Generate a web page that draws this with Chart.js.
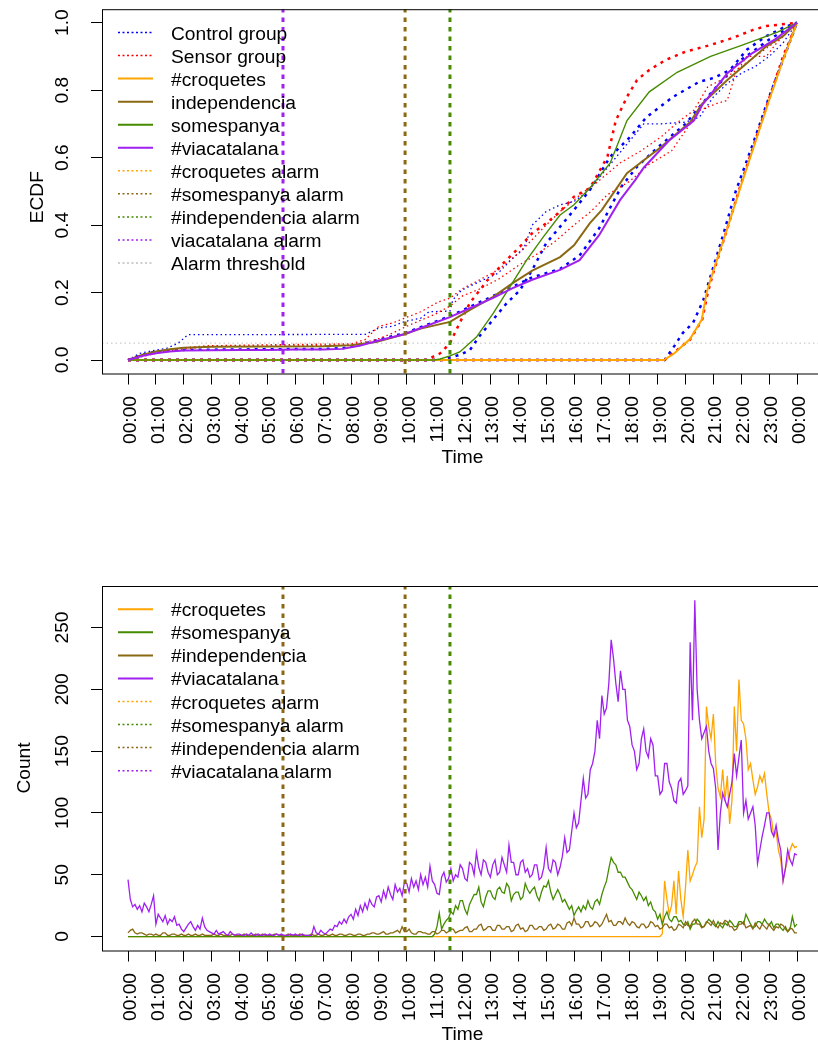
<!DOCTYPE html>
<html><head><meta charset="utf-8">
<script src="https://cdn.jsdelivr.net/npm/chart.js@4.4.1/dist/chart.umd.min.js"></script>
<style>
html,body{margin:0;padding:0;background:#fff;overflow:hidden;}
#wrap{position:relative;width:818px;height:1041px;background:#fff;}
canvas{position:absolute;left:0;}
</style></head><body>
<div id="wrap">
<canvas id="c1" style="top:0;width:818px;height:480px"></canvas>
<canvas id="c2" style="top:480px;width:818px;height:561px"></canvas>
</div>
<script>
// ================= DATA =================
const hourTicks = [0,1,2,3,4,5,6,7,8,9,10,11,12,13,14,15,16,17,18,19,20,21,22,23,24];
const hourLabels = ["00:00","01:00","02:00","03:00","04:00","05:00","06:00","07:00","08:00","09:00","10:00","11:00",
  "12:00","13:00","14:00","15:00","16:00","17:00","18:00","19:00","20:00","21:00","22:00","23:00","00:00"];
const ecdfTicks = [0,0.2,0.4,0.6,0.8,1.0];
const ecdfTickLabels = ["0.0","0.2","0.4","0.6","0.8","1.0"];
const countTicks = [0,50,100,150,200,250];
const countTickLabels = ["0","50","100","150","200","250"];

// alarm times (hours) and ECDF alarm threshold
const alarmHours = [5.56, 9.94, 11.55];
const alarmThreshold = 0.05;

// ---- ECDF curves: hour / cumulative share ----
const croquetesEcdfH = [0,19.23,19.6,20.16,20.58,20.76,21.0,21.5,22.0,22.5,23.0,23.5,24];
const croquetesEcdfV = [0,0,0.02,0.062,0.119,0.2,0.265,0.39,0.52,0.645,0.77,0.89,1.0];

const independenciaEcdfH = [0,0.5,1,1.5,2,3,5,7,8,8.9,9.94,10.5,11.55,12.3,13.1,13.8,14.5,15.5,16.0,16.57,17.0,17.9,19.1,20.16,20.6,21.5,22.2,22.9,23.5,24];
const independenciaEcdfV = [0,0.015,0.025,0.032,0.036,0.039,0.04,0.041,0.044,0.053,0.077,0.093,0.113,0.15,0.187,0.228,0.265,0.305,0.34,0.406,0.445,0.554,0.63,0.705,0.76,0.83,0.88,0.93,0.96,1.0];

const somespanyaEcdfH = [0,11.0,11.2,11.55,11.9,12.5,13.1,13.7,14.3,14.9,15.5,16.0,16.57,17.3,17.9,18.7,19.7,20.9,22.06,23.3,24];
const somespanyaEcdfV = [0,0,0.003,0.012,0.024,0.068,0.138,0.217,0.296,0.365,0.43,0.46,0.51,0.584,0.71,0.795,0.853,0.9,0.934,0.972,1.0];

const viacatalanaEcdfH = [0,0.5,1,1.5,2,3,4,5,6,7,7.7,8.3,9,9.94,10.5,11.55,12.3,13.1,13.8,14.5,15.5,16.2,16.9,17.65,18.2,18.5,19.4,20.3,20.6,21.5,22.4,23.2,24];
const viacatalanaEcdfV = [0,0.012,0.02,0.025,0.028,0.029,0.03,0.03,0.031,0.031,0.033,0.042,0.058,0.077,0.095,0.127,0.155,0.184,0.213,0.238,0.267,0.296,0.37,0.474,0.534,0.57,0.65,0.71,0.756,0.85,0.91,0.95,1.0];

// control group (blue)
const controlCroquetesH = [0,19.25,19.62,19.9,20.27,20.64,21.0,21.37,21.78,22.5,23.0,23.5,24];
const controlCroquetesV = [0,0,0.044,0.08,0.11,0.178,0.276,0.376,0.495,0.66,0.78,0.89,1.0];
const controlSomespanyaH = [0,11.2,11.9,12.27,12.6,13.1,13.58,14.06,14.5,15.0,15.5,16.0,16.57,17.3,18.0,18.6,19.55,20.5,21.0,21.6,22.2,22.9,23.5,24];
const controlSomespanyaV = [0,0,0.015,0.03,0.07,0.12,0.168,0.207,0.267,0.346,0.395,0.445,0.504,0.603,0.66,0.72,0.78,0.825,0.836,0.86,0.92,0.96,0.985,1.0];
const controlViacatalanaH = [0,0.5,1,2,5,7,7.7,8.3,9,9.94,11.55,13.1,14.5,15.5,16.2,16.9,17.7,18.26,19.0,20.0,21.0,22.0,23.0,24];
const controlViacatalanaV = [0,0.015,0.025,0.03,0.032,0.033,0.035,0.045,0.06,0.08,0.13,0.19,0.245,0.27,0.31,0.39,0.514,0.573,0.63,0.70,0.80,0.89,0.95,1.0];
const controlIndependenciaH = [0,0.43,1.03,1.4,1.8,2.15,8.52,9.0,9.5,9.92,10.5,10.8,11.55,11.65,11.97,12.6,13.27,13.78,14.2,14.5,15.0,15.5,16.0,16.5,17.0,17.5,18.0,18.5,19.1,20.0,20.5,21.0,21.5,22.0,22.5,23.0,23.5,24];
const controlIndependenciaV = [0,0.02,0.03,0.035,0.05,0.075,0.076,0.095,0.1,0.114,0.124,0.143,0.145,0.178,0.207,0.232,0.257,0.3,0.33,0.4,0.44,0.46,0.47,0.5,0.55,0.6,0.65,0.70,0.70,0.705,0.72,0.78,0.82,0.85,0.87,0.9,0.94,1.0];

// sensor group (red)
const sensorCroquetesH = [0,19.25,19.7,20.16,20.6,20.8,21.0,21.5,22.0,22.5,23.0,23.5,24];
const sensorCroquetesV = [0,0,0.03,0.06,0.12,0.2,0.26,0.39,0.525,0.65,0.775,0.9,1.0];
const sensorSomespanyaH = [0,10.7,11.2,11.55,11.9,12.27,12.9,13.5,14.06,14.5,15.0,15.5,16.0,16.57,16.8,17.2,17.5,17.9,18.26,18.7,19.3,20.0,20.9,21.7,22.4,22.9,24];
const sensorSomespanyaV = [0,0,0.02,0.05,0.11,0.17,0.237,0.29,0.336,0.376,0.405,0.44,0.484,0.51,0.543,0.603,0.71,0.78,0.83,0.86,0.89,0.914,0.934,0.955,0.978,0.99,1.0];
const sensorIndependenciaH = [0,0.5,1,1.5,2,2.76,5,8.0,8.5,9.0,9.5,9.92,10.5,11.15,11.55,11.97,12.6,13.27,13.78,14.3,15.0,15.5,16.3,16.8,17.65,18.4,19.1,19.8,20.3,20.8,21.5,22.0,22.5,23.0,23.5,24];
const sensorIndependenciaV = [0,0.012,0.02,0.03,0.036,0.042,0.045,0.048,0.06,0.1,0.11,0.124,0.143,0.173,0.183,0.21,0.237,0.267,0.3,0.34,0.4,0.44,0.495,0.525,0.584,0.62,0.66,0.71,0.74,0.81,0.84,0.87,0.9,0.93,0.96,1.0];
const sensorViacatalanaH = [0,0.5,1,2,3,6,8,8.9,9.5,10.0,10.5,11.0,11.55,12.0,12.6,13.3,14.0,14.6,15.3,16.0,16.6,17.2,18.0,18.7,19.5,20.5,21.1,21.5,21.8,22.2,22.9,23.27,24];
const sensorViacatalanaV = [0,0.01,0.02,0.033,0.04,0.042,0.045,0.06,0.08,0.1,0.118,0.135,0.16,0.19,0.21,0.24,0.28,0.31,0.35,0.4,0.44,0.49,0.53,0.58,0.62,0.74,0.76,0.77,0.85,0.9,0.9,0.94,1.0];

// ---- tweet counts per 5-minute bin, 00:00 .. 24:00 (one row per hour) ----
const countBinMinutes = 5;
const croquetesCount = [
 0,0,0,0,0,0,0,0,0,0,0,0, 0,0,0,0,0,0,0,0,0,0,0,0, 0,0,0,0,0,0,0,0,0,0,0,0, 0,0,0,0,0,0,0,0,0,0,0,0,
 0,0,0,0,0,0,0,0,0,0,0,0, 0,0,0,0,0,0,0,0,0,0,0,0, 0,0,0,0,0,0,0,0,0,0,0,0, 0,0,0,0,0,0,0,0,0,0,0,0,
 0,0,0,0,0,0,0,0,0,0,0,0, 0,0,0,0,0,0,0,0,0,0,0,0, 0,0,0,0,0,0,0,0,0,0,0,0, 0,0,0,0,0,0,0,0,0,0,0,0,
 0,0,0,0,0,0,0,0,0,0,0,0, 0,0,0,0,0,0,0,0,0,0,0,0, 0,0,0,0,0,0,0,0,0,0,0,0, 0,0,0,0,0,0,0,0,0,0,0,0,
 0,0,0,0,0,0,0,0,0,0,0,0, 0,0,0,0,0,0,0,0,0,0,0,0, 0,0,0,0,0,0,0,0,0,0,0,0,
 0,0,2,45,30,18,25,45,18,53,30,16,
 40,70,45,50,56,60,105,80,95,186,170,160,
 180,140,120,113,135,110,130,91,110,186,150,208,
 175,172,160,135,140,127,115,121,130,125,132,115,
 100,95,81,85,70,62,45,55,62,70,75,72,
 73];
const somespanyaCount = [
 0,0,0,0,0,0,0,0,0,0,0,0, 0,0,0,0,0,0,0,0,0,0,0,0, 0,0,0,0,0,0,0,0,0,0,0,0, 0,0,0,0,0,0,0,0,0,0,0,0,
 0,0,0,0,0,0,0,0,0,0,0,0, 0,0,0,0,0,0,0,0,0,0,0,0, 0,0,0,0,0,0,0,0,0,0,0,0, 0,0,0,0,0,0,0,0,0,0,0,0,
 0,0,0,0,0,0,0,0,0,0,0,0, 0,0,0,0,0,0,0,0,0,0,0,0, 0,0,0,0,0,0,0,0,0,0,0,0,
 2,8,19,6,10,13,15,20,18,25,22,29,
 29,22,18,26,30,34,34,40,28,24,32,37,
 37,32,30,38,40,36,35,43,40,29,34,36,
 36,30,32,43,38,35,38,40,33,29,36,41,
 40,45,36,30,34,38,34,28,30,26,22,25,
 17,21,24,20,25,22,29,24,22,28,30,26,
 34,40,45,55,64,60,58,52,52,48,48,44,
 40,38,34,30,36,33,29,32,25,28,22,20,
 14,18,10,16,20,14,12,16,16,12,13,10,
 9,12,6,10,10,14,12,8,8,11,14,12,
 10,8,12,9,7,11,9,13,11,8,8,12,
 12,10,18,14,10,7,8,12,12,10,14,11,
 9,12,7,10,10,7,5,8,4,6,16,8,
 10];
const independenciaCount = [
 3,5,6,3,2,3,3,2,1,2,2,1,
 2,1,1,3,3,1,1,2,2,1,1,2,
 1,1,2,1,1,2,1,1,2,1,1,1,
 1,2,1,1,2,1,1,1,1,2,1,1,
 1,1,2,1,1,1,1,2,1,1,2,1,
 1,1,1,2,2,1,1,1,1,2,1,1,
 1,1,2,1,1,1,1,2,1,1,2,1,
 1,2,1,1,2,1,1,2,2,1,1,2,
 2,1,1,2,2,1,1,2,2,3,3,2,
 2,3,4,2,2,3,3,4,5,3,8,4,
 4,6,3,2,2,4,4,3,3,2,2,4,
 4,2,3,5,5,3,4,6,6,3,4,5,
 5,7,8,4,4,6,6,9,10,5,6,8,
 8,5,5,9,9,6,6,8,8,4,5,9,
 10,6,7,4,5,9,9,6,6,8,8,5,
 6,9,10,6,7,10,9,6,6,11,12,9,
 15,10,10,7,8,12,12,8,9,12,11,8,
 10,14,18,12,13,9,9,12,12,10,15,11,
 9,12,11,8,7,10,10,7,8,12,11,8,
 9,6,7,10,10,7,8,5,6,10,9,7,
 12,9,8,12,14,10,10,7,8,12,11,9,
 13,9,7,11,10,13,12,8,8,5,6,10,
 10,12,7,8,9,6,11,8,6,10,8,6,
 10,7,5,8,7,10,9,6,4,7,6,3,
 3];
const viacatalanaCount = [
 46,30,24,26,22,25,20,27,24,20,26,33,
 10,18,15,12,17,10,14,12,16,9,10,6,
 4,7,10,12,8,5,9,6,15,8,5,4,
 3,2,5,2,3,4,2,1,4,2,1,2,
 2,1,1,2,1,3,1,1,2,1,1,2,
 1,2,1,1,2,1,2,1,1,1,2,1,
 2,1,1,2,1,1,1,1,8,3,2,5,
 3,2,4,6,5,9,8,12,10,14,11,16,
 18,14,22,17,25,20,27,22,30,26,24,32,
 33,28,37,31,40,34,30,42,36,39,33,44,
 43,36,47,40,45,38,50,42,48,40,57,45,
 42,35,34,48,52,44,47,55,45,50,48,58,
 55,47,45,60,58,50,68,56,50,62,60,52,
 48,58,62,50,52,64,58,52,74,60,60,50,
 50,60,62,52,55,48,50,58,58,46,48,56,
 72,55,52,62,60,50,56,65,80,68,70,85,
 100,88,92,110,128,112,115,135,140,150,175,160,
 195,180,185,205,240,225,205,190,215,200,200,175,
 170,155,150,135,140,160,168,150,145,160,155,130,
 130,115,118,140,140,125,120,110,108,125,128,115,
 118,122,238,175,272,200,175,160,165,170,150,140,
 136,120,70,100,116,110,105,115,125,148,130,145,
 159,100,110,95,100,105,90,59,70,81,90,100,
 100,85,81,90,78,70,45,55,70,62,58,67,
 66];

const topLegendLabels = ["Control group","Sensor group","#croquetes","independencia","somespanya","#viacatalana",
  "#croquetes alarm","#somespanya alarm","#independencia alarm","viacatalana alarm","Alarm threshold"];
const bottomLegendLabels = ["#croquetes","#somespanya","#independencia","#viacatalana",
  "#croquetes alarm","#somespanya alarm","#independencia alarm","#viacatalana alarm"];

// ================= STYLE =================
const COL = {blue:'#0000FF', red:'#FF0000', orange:'#FFA500', brown:'#8B6914', green:'#458B00', purple:'#A020F0', gray:'#BEBEBE'};
const FONT = '19.2px "Liberation Sans", Arial, Helvetica, sans-serif';
const X_MIN = -0.933, X_MAX = 24.753;
const Y1_MIN = -0.04, Y1_MAX = 1.04;
const Y2_MIN = -11.3, Y2_MAX = 283.6;
const DOT_THIN = [1.5, 3], DOT_THICK = [3, 5], ALARM_DASH = [4.5, 5];

function pts(h, v) { return h.map((x, i) => ({x: x, y: v[i]})); }
function countPts(v) { return v.map((y, i) => ({x: i * countBinMinutes / 60, y: y})); }
function line(label, data, color, width, dash, order) {
  return {label, data, borderColor: color, backgroundColor: color, borderWidth: width,
    borderDash: dash || [], pointRadius: 0, tension: 0, fill: false, order: order, borderCapStyle: 'butt'};
}
function vline(t, color, ymin, ymax, label) {
  return line(label, [{x: t, y: ymin}, {x: t, y: ymax}], color, 3, ALARM_DASH, 0);
}

const rPlot = {
  id: 'rPlot',
  afterDraw(chart, args, o) {
    const ctx = chart.ctx, a = chart.chartArea, xs = chart.scales.x, ys = chart.scales.y;
    ctx.save();
    ctx.strokeStyle = '#000'; ctx.lineWidth = 1; ctx.setLineDash([]);
    ctx.strokeRect(a.left + 0.5, a.top + 0.5, a.right - a.left + 20, a.bottom - a.top);
    ctx.fillStyle = '#000'; ctx.font = FONT;
    o.yTicks.forEach((v, i) => {
      ctx.save(); ctx.translate(67.5, ys.getPixelForValue(v)); ctx.rotate(-Math.PI / 2);
      ctx.textAlign = 'center'; ctx.textBaseline = 'alphabetic'; ctx.fillText(o.yLabels[i], 0, 0); ctx.restore();
    });
    hourTicks.forEach((v, i) => {
      ctx.save(); ctx.translate(xs.getPixelForValue(v) + 8, a.bottom + 22.5); ctx.rotate(-Math.PI / 2);
      ctx.textAlign = 'right'; ctx.textBaseline = 'alphabetic'; ctx.fillText(hourLabels[i], 0, 0); ctx.restore();
    });
    ctx.textAlign = 'center'; ctx.textBaseline = 'alphabetic';
    ctx.fillText('Time', xs.getPixelForValue(12), a.bottom + 89);
    ctx.save(); ctx.translate(o.yTitleX, a.top + o.yTitleDy); ctx.rotate(-Math.PI / 2);
    ctx.fillText(o.yTitle, 0, 0); ctx.restore();
    // legend
    ctx.textAlign = 'left';
    o.legend.forEach((it, i) => {
      const y = o.legendY0 + i * 23.05;
      ctx.beginPath(); ctx.strokeStyle = it.color; ctx.lineWidth = it.dash ? 1.5 : 2;
      ctx.setLineDash(it.dash ? [2, 2.5] : []);
      ctx.moveTo(118, y); ctx.lineTo(153, y); ctx.stroke();
      ctx.setLineDash([]);
      ctx.fillStyle = '#000'; ctx.fillText(it.label, 171, y + 7);
    });
    ctx.restore();
  }
};

function xScale(axisH) {
  return {type: 'linear', min: X_MIN, max: X_MAX,
    afterBuildTicks: s => { s.ticks = hourTicks.map(v => ({value: v})); },
    afterFit: s => { s.height = axisH; },
    ticks: {display: false},
    grid: {drawOnChartArea: false, drawTicks: true, tickLength: 11, color: '#000', lineWidth: 1},
    border: {display: false}};
}
function yScale(min, max, ticks) {
  return {type: 'linear', min: min, max: max,
    afterBuildTicks: s => { s.ticks = ticks.map(v => ({value: v})); },
    afterFit: s => { s.width = 102; },
    ticks: {display: false},
    grid: {drawOnChartArea: false, drawTicks: true, tickLength: 11, color: '#000', lineWidth: 1},
    border: {display: false}};
}

Chart.defaults.font.family = '"Liberation Sans", Arial, sans-serif';

// ---------- top chart: ECDF ----------
const c1 = document.getElementById('c1'); c1.width = 818; c1.height = 480;
new Chart(c1, {
  type: 'line',
  data: {datasets: [
    line('Alarm threshold', [{x: X_MIN, y: alarmThreshold}, {x: X_MAX, y: alarmThreshold}], COL.gray, 1, DOT_THIN, 50),
    line('Control #croquetes', pts(controlCroquetesH, controlCroquetesV), COL.blue, 2.5, DOT_THICK, 40),
    line('Control somespanya', pts(controlSomespanyaH, controlSomespanyaV), COL.blue, 2.5, DOT_THICK, 39),
    line('Control independencia', pts(controlIndependenciaH, controlIndependenciaV), COL.blue, 1.3, DOT_THIN, 38),
    line('Control #viacatalana', pts(controlViacatalanaH, controlViacatalanaV), COL.blue, 2.5, DOT_THICK, 37),
    line('Sensor #croquetes', pts(sensorCroquetesH, sensorCroquetesV), COL.red, 2.5, DOT_THICK, 36),
    line('Sensor somespanya', pts(sensorSomespanyaH, sensorSomespanyaV), COL.red, 2.5, DOT_THICK, 35),
    line('Sensor independencia', pts(sensorIndependenciaH, sensorIndependenciaV), COL.red, 1.3, DOT_THIN, 34),
    line('Sensor #viacatalana', pts(sensorViacatalanaH, sensorViacatalanaV), COL.red, 1.3, DOT_THIN, 33),
    line('#croquetes', pts(croquetesEcdfH, croquetesEcdfV), COL.orange, 2, null, 20),
    line('independencia', pts(independenciaEcdfH, independenciaEcdfV), COL.brown, 2, null, 19),
    line('somespanya', pts(somespanyaEcdfH, somespanyaEcdfV), COL.green, 1.4, null, 18),
    line('#viacatalana', pts(viacatalanaEcdfH, viacatalanaEcdfV), COL.purple, 2, null, 17),
    vline(alarmHours[0], COL.purple, Y1_MIN, Y1_MAX, 'viacatalana alarm'),
    vline(alarmHours[1], COL.brown, Y1_MIN, Y1_MAX, '#somespanya alarm'),
    vline(alarmHours[2], COL.green, Y1_MIN, Y1_MAX, '#independencia alarm')
  ]},
  options: {
    responsive: false, animation: false, devicePixelRatio: 1,
    layout: {padding: {top: 9.2, left: 0, right: 0, bottom: 0}},
    plugins: {legend: {display: false}, tooltip: {enabled: false},
      rPlot: {yTicks: ecdfTicks, yLabels: ecdfTickLabels, yTitle: 'ECDF', yTitleX: 43, yTitleDy: 188, legendY0: 32.5,
        legend: topLegendLabels.map((l, i) => ({label: l,
          color: [COL.blue, COL.red, COL.orange, COL.brown, COL.green, COL.purple, COL.orange, COL.brown, COL.green, COL.purple, COL.gray][i],
          dash: i < 2 || i > 5}))}},
    scales: {x: xScale(106.5), y: yScale(Y1_MIN, Y1_MAX, ecdfTicks)}
  },
  plugins: [rPlot]
});

// ---------- bottom chart: counts ----------
const c2 = document.getElementById('c2'); c2.width = 818; c2.height = 561;
new Chart(c2, {
  type: 'line',
  data: {datasets: [
    line('#croquetes', countPts(croquetesCount), COL.orange, 1.3, null, 4),
    line('#somespanya', countPts(somespanyaCount), COL.green, 1.3, null, 3),
    line('#independencia', countPts(independenciaCount), COL.brown, 1.3, null, 2),
    line('#viacatalana', countPts(viacatalanaCount), COL.purple, 1.3, null, 1),
    vline(alarmHours[0], COL.brown, Y2_MIN, Y2_MAX, '#viacatalana alarm'),
    vline(alarmHours[1], COL.brown, Y2_MIN, Y2_MAX, '#independencia alarm'),
    vline(alarmHours[2], COL.green, Y2_MIN, Y2_MAX, '#somespanya alarm')
  ]},
  options: {
    responsive: false, animation: false, devicePixelRatio: 1,
    layout: {padding: {top: 106, left: 0, right: 0, bottom: 0}},
    plugins: {legend: {display: false}, tooltip: {enabled: false},
      rPlot: {yTicks: countTicks, yLabels: countTickLabels, yTitle: 'Count', yTitleX: 30, yTitleDy: 182, legendY0: 129.3,
        legend: bottomLegendLabels.map((l, i) => ({label: l,
          color: [COL.orange, COL.green, COL.brown, COL.purple, COL.orange, COL.green, COL.brown, COL.purple][i],
          dash: i > 3}))}},
    scales: {x: xScale(90.5), y: yScale(Y2_MIN, Y2_MAX, countTicks)}
  },
  plugins: [rPlot]
});
</script>
</body></html>
